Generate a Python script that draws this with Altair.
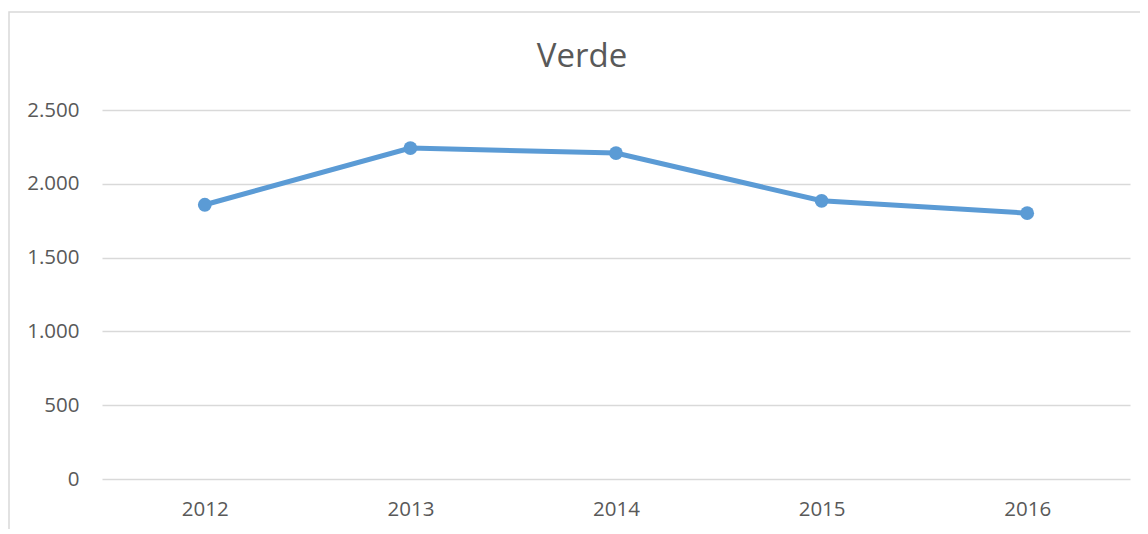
import altair as alt
import pandas as pd

years = ["2012", "2013", "2014", "2015", "2016"]
values = [1858, 2242, 2208, 1885, 1801]
title_text = "Verde"
y_ticks = [0, 500, 1000, 1500, 2000, 2500]

df = pd.DataFrame({"year": years, "value": values})

W, H = 1028, 369
FONT = "Open Sans"
TXT = "#595959"
GRID = "#D9D9D9"
BLUE = "#5B9BD5"

x = alt.X("year:N", sort=years, title=None,
          scale=alt.Scale(paddingInner=0, paddingOuter=0.5),
          axis=alt.Axis(labelAngle=0, ticks=False, domain=False, grid=False,
                        labelFont=FONT, labelFontSize=20.5, labelColor=TXT,
                        labelPadding=20))
y = alt.Y("value:Q", title=None,
          scale=alt.Scale(domain=[0, 2500], nice=False),
          axis=alt.Axis(values=y_ticks, ticks=False, domain=False,
                        gridColor=GRID, gridWidth=1.5,
                        labelFont=FONT, labelFontSize=20.5, labelColor=TXT,
                        labelPadding=23,
                        labelExpr="replace(format(datum.value, ',d'), ',', '.')"))

line = alt.Chart(df).mark_line(color=BLUE, strokeWidth=5).encode(x=x, y=y)
pts = alt.Chart(df).mark_point(filled=True, color=BLUE, size=190, opacity=1).encode(x=x, y=y)

border = alt.Chart(pd.DataFrame({"a": [0]})).mark_rect(
    fill=None, stroke=GRID, strokeWidth=1.5
).encode(x=alt.value(-93), x2=alt.value(1060), y=alt.value(-98), y2=alt.value(H + 80))

title = alt.Chart(pd.DataFrame({"t": [title_text]})).mark_text(
    font=FONT, fontSize=33, color=TXT, baseline="alphabetic", align="center"
).encode(text="t:N", x=alt.value(480), y=alt.value(-43))

chart = alt.layer(border, line, pts, title).properties(
    width=W, height=H,
    background="white",
    autosize=alt.AutoSizeParams(type="none"),
    padding={"left": 94, "top": 102, "right": 10, "bottom": 50},
).configure_view(stroke=None, strokeWidth=0)

chart.save("out.html", embed_options={"renderer": "svg", "actions": False})
